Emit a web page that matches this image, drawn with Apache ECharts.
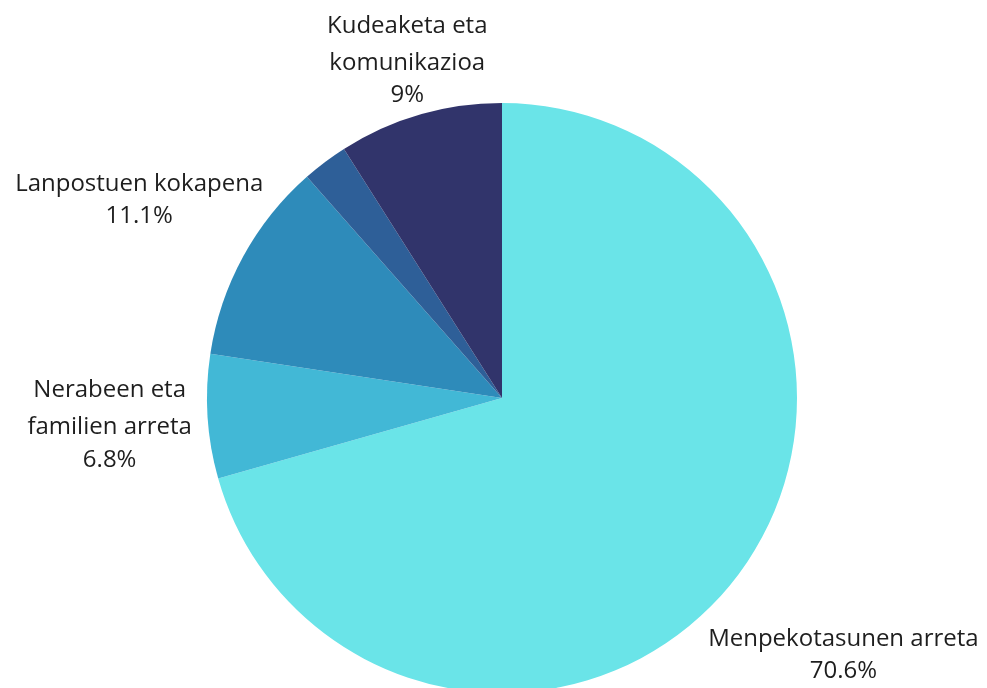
<!DOCTYPE html>
<html>
<head>
<meta charset="utf-8">
<script src="https://cdn.jsdelivr.net/npm/echarts@6/dist/echarts.min.js"></script>
<style>
  html, body { margin: 0; padding: 0; background: #fff; }
  #chart { width: 987px; height: 688px; }
</style>
</head>
<body>
<div id="chart"></div>
<script>
// Slice names (with manual line breaks), values in percent and colours
const categories = [
  'Menpekotasunen arreta',
  'Nerabeen eta\nfamilien arreta',
  'Lanpostuen kokapena',
  'Beste batzuk',
  'Kudeaketa eta\nkomunikazioa'
];
const values = [70.6, 6.8, 11.1, 2.5, 9];
const colors = ['#6ae4e8', '#42b8d6', '#2e8bba', '#2e5f98', '#31346b'];
const hiddenLabels = ['Beste batzuk'];

const CX = 502, CY = 398, R = 295;
const FONT = 'Open Sans';
const FS = 24;
const LABEL_GAP = 14;

const chart = echarts.init(document.getElementById('chart'));

const data = categories.map((name, i) => ({
  name,
  value: values[i],
  itemStyle: { color: colors[i] },
  label: { show: hiddenLabels.indexOf(name) < 0 }
}));

// Mid angles (clockwise from 12 o'clock) of each slice, used to place the labels
const total = values.reduce((a, b) => a + b, 0);
const midAngles = [];
let acc = 0;
values.forEach(v => {
  midAngles.push(((acc + v / 2) / total) * Math.PI * 2);
  acc += v;
});

chart.setOption({
  animation: false,
  series: [{
    type: 'pie',
    center: [CX, CY],
    radius: R,
    startAngle: 90,
    clockwise: true,
    data,
    itemStyle: { borderWidth: 0 },
    labelLine: { show: false },
    label: {
      position: 'outside',
      overflow: 'none',
      formatter: p => '{n|' + p.name.split('\n').join('}\n{n|') + '}\n{v|' + p.value + '%}',
      color: '#1e1e1e',
      fontFamily: FONT,
      fontSize: FS,
      rich: {
        n: { fontFamily: FONT, fontSize: FS, color: '#1e1e1e', lineHeight: 37, align: 'center' },
        v: { fontFamily: FONT, fontSize: FS, color: '#1e1e1e', lineHeight: 28, align: 'center' }
      }
    },
    // Centre each label block on the slice's bisector, just clear of the rim
    labelLayout: function (params) {
      const a = midAngles[params.dataIndex];
      const dx = Math.sin(a), dy = -Math.cos(a);
      const w = params.labelRect.width, h = params.labelRect.height;
      const ext = Math.max(Math.abs(dx) * w / 2, Math.abs(dy) * h / 2);
      const dist = R + LABEL_GAP + ext + (dy > 0 ? 6 : 0);
      return {
        x: CX + dx * dist + 4,
        y: CY + dy * dist,
        align: 'center',
        verticalAlign: 'middle'
      };
    }
  }]
});
</script>
</body>
</html>
